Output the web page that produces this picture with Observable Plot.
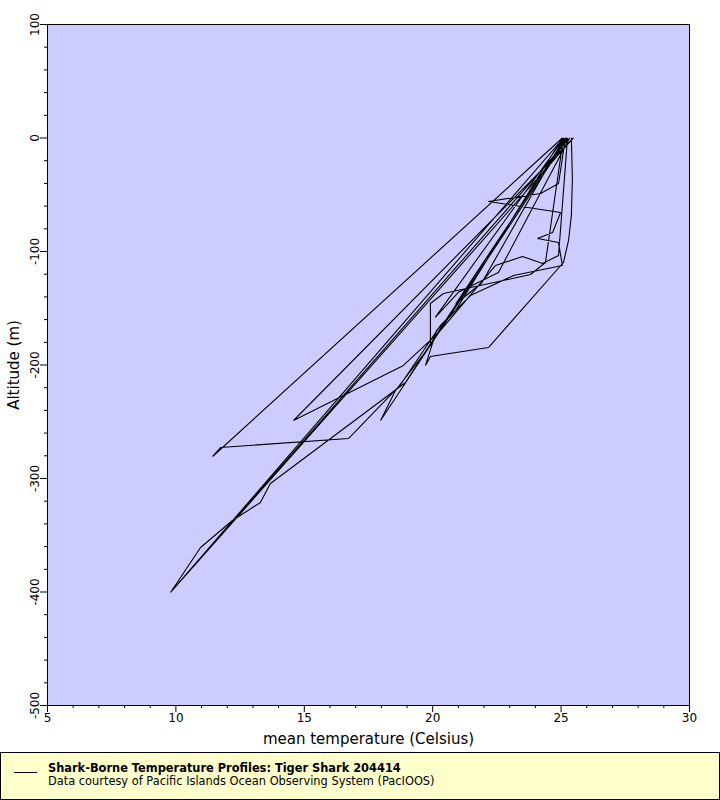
<!DOCTYPE html>
<html>
<head>
<meta charset="utf-8">
<script src="https://cdn.jsdelivr.net/npm/d3@7"></script>
<script src="https://cdn.jsdelivr.net/npm/@observablehq/plot@0.6"></script>
<style>
  html, body { margin: 0; padding: 0; background: #fff; }
  body { width: 720px; font-family: "DejaVu Sans", sans-serif; }
  #legend { position: relative; width: 720px; height: 48px; box-sizing: border-box; border: 1px solid #000; background: #FFFFCC; }
  #legend .sample { position: absolute; left: 13px; top: 19px; width: 23px; height: 0; border-top: 1px solid #000; }
  #legend .t1 { position: absolute; left: 47px; top: 10px; font-size: 11.4px; font-weight: bold; line-height: 11px; color: #000; white-space: nowrap; }
  #legend .t2 { position: absolute; left: 47px; top: 23px; font-size: 11.4px; line-height: 11px; color: #000; white-space: nowrap; }
</style>
</head>
<body>
<div id="chart"></div>
<div id="legend"><div class="sample"></div><div class="t1">Shark-Borne Temperature Profiles: Tiger Shark 204414</div><div class="t2">Data courtesy of Pacific Islands Ocean Observing System (PacIOOS)</div></div>
<script>
const temperature = [25.40, 25.44, 25.40, 25.29, 25.09, 22.17, 19.91, 19.72, 20.15, 20.89,
  25.05, 11.43, 11.74, 16.72, 18.75, 20.30, 21.47, 23.15, 25.05, 24.90,
  24.08, 24.67, 24.98, 22.17, 24.20, 24.90, 25.17, 20.50, 18.94, 13.68,
  13.29, 12.20, 10.96, 9.79, 25.48, 14.58, 18.86, 20.23, 22.45, 23.50,
  24.28, 24.90, 25.25, 17.97, 18.55, 19.91, 19.91, 20.42, 23.81, 24.39,
  25.09, 9.79, 25.33, 22.56, 21.00, 20.10, 25.12, 21.90, 20.90, 25.20];
const altitude = [0, -35.7, -68.3, -90.3, -109.7, -184.6, -192.5, -200.4, -169.6, -152.0,
  0, -280.6, -272.7, -264.8, -217.2, -165.2, -138.8, -121.1, -112.3, -92.1,
  -88.5, -83.3, -65.6, -55.9, -48.9, -40.1, 0, -160.8, -215.4, -304.4,
  -321.1, -337.0, -360.8, -400.4, 0, -248.9, -200.4, -171.4, -112.3, -104.4,
  -110.6, -103.5, 0, -248.9, -222.5, -182.8, -145.8, -137.0, -120.3, -109.7,
  0, -400.4, 0, -118.5, -136.0, -158.0, 0, -128.0, -146.0, 0];
const xMajorTicks = [5, 10, 15, 20, 25, 30];
const yMajorTicks = [-500, -400, -300, -200, -100, 0, 100];
const xLabel = "mean temperature (Celsius)";
const yLabel = "Altitude (m)";

const data = temperature.map((t, i) => ({t, a: altitude[i]}));
const xMinor = d3.range(5, 31, 1).filter(v => v % 5 !== 0);
const yMinor = d3.range(-500, 101, 20).filter(v => v % 100 !== 0);

const chart = Plot.plot({
  width: 720,
  height: 752,
  marginLeft: 47,
  marginRight: 31,
  marginTop: 24,
  marginBottom: 47,
  style: {fontFamily: "DejaVu Sans, sans-serif", fontSize: "12px", color: "#000", background: "#fff"},
  x: {domain: [5, 30]},
  y: {domain: [-500, 100]},
  marks: [
    Plot.frame({fill: "#CCCCFF", stroke: null}),
    Plot.line(data, {x: "t", y: "a", stroke: "#000", strokeWidth: 1.1, strokeLinejoin: "miter"}),
    Plot.frame({stroke: "#000", strokeWidth: 1}),
    Plot.axisX({ticks: xMinor, tickSize: 3, text: null, label: null}),
    Plot.axisX({ticks: xMajorTicks, tickSize: 7, tickPadding: 1, label: null, tickFormat: d => String(d), fontSize: 12}),
    Plot.axisY({ticks: yMinor, tickSize: 3, text: null, label: null}),
    Plot.axisY({ticks: yMajorTicks, tickSize: 7, text: null, label: null}),
    Plot.text(yMajorTicks, {y: d => d, text: d => String(d), frameAnchor: "left", dx: -9, rotate: -90, textAnchor: "middle", lineAnchor: "bottom", fontSize: 12}),
    Plot.text([xLabel], {frameAnchor: "bottom", dy: 28, lineAnchor: "top", textAnchor: "middle", fontSize: 15, text: d => d}),
    Plot.text([yLabel], {frameAnchor: "left", dx: -39, rotate: -90, lineAnchor: "top", textAnchor: "middle", fontSize: 15, text: d => d})
  ]
});
document.getElementById("chart").appendChild(chart);
</script>
</body>
</html>
